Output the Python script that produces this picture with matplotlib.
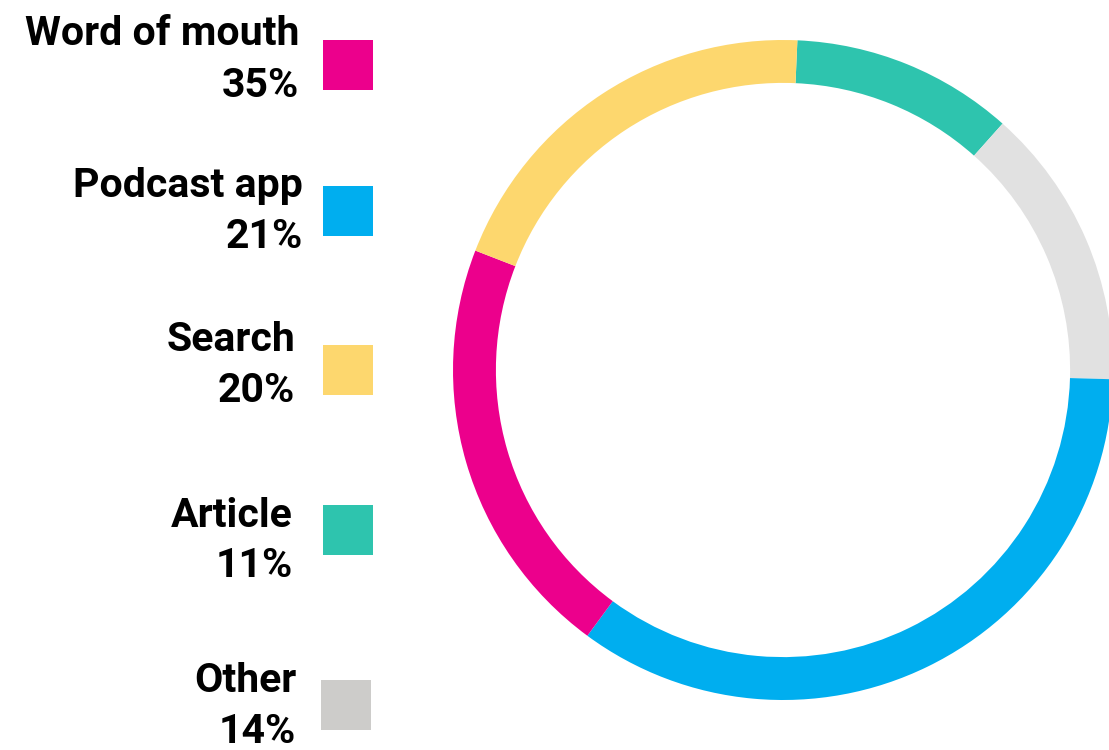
import matplotlib
matplotlib.use("Agg")
import matplotlib.pyplot as plt
from matplotlib.patches import Rectangle

# legend data
labels = ["Word of mouth", "Podcast app", "Search", "Article", "Other"]
shares = [35, 21, 20, 11, 14]
legend_colors = ["#EC008C", "#00AEEF", "#FDD76E", "#2EC4AE", "#CDCCCA"]

# ring data, clockwise from the top
ring_shares = [11, 14, 35, 21, 20]
ring_colors = ["#2EC4AE", "#E1E1E1", "#00AEEF", "#EC008C", "#FDD76E"]

W, H = 1109, 750
fig = plt.figure(figsize=(W / 100, H / 100), dpi=100)
fig.patch.set_facecolor("white")

font = ["Roboto", "DejaVu Sans"]

def px(x, y):
    return x / W, 1 - y / H

# legend layout (pixels)
label_base = [45, 197, 351, 527, 692]
pct_base = [97, 248, 402, 577, 743]
text_right = [299, 303, 295, 293, 296]
box_left = [323, 323, 323, 323, 321]
box_top = [40, 186, 345, 505, 680]
box_size = 50

for i in range(len(labels)):
    fig.text(*px(text_right[i], label_base[i]), labels[i], ha="right", va="baseline",
             fontsize=29.5, fontweight="bold", family=font, color="black")
    fig.text(*px(text_right[i], pct_base[i]), "{}%".format(shares[i]), ha="right", va="baseline",
             fontsize=29.5, fontweight="bold", family=font, color="black")
    x0, y1 = px(box_left[i], box_top[i] + box_size)
    fig.patches.append(Rectangle((x0, y1), box_size / W, box_size / H, transform=fig.transFigure,
                                 facecolor=legend_colors[i], edgecolor="none"))

# donut: centre (783, 370), outer radius 330 px
cx, cy, r = 783, 370, 330
ax = fig.add_axes([(cx - r) / W, (H - cy - r) / H, 2 * r / W, 2 * r / H])
ax.pie(ring_shares, colors=ring_colors, startangle=87.5, counterclock=False, radius=1,
       wedgeprops=dict(width=0.13, edgecolor="none"))
ax.set_xlim(-1, 1)
ax.set_ylim(-1, 1)
ax.set_aspect("equal")
ax.axis("off")

fig.savefig("out.png", dpi=100, facecolor="white")
